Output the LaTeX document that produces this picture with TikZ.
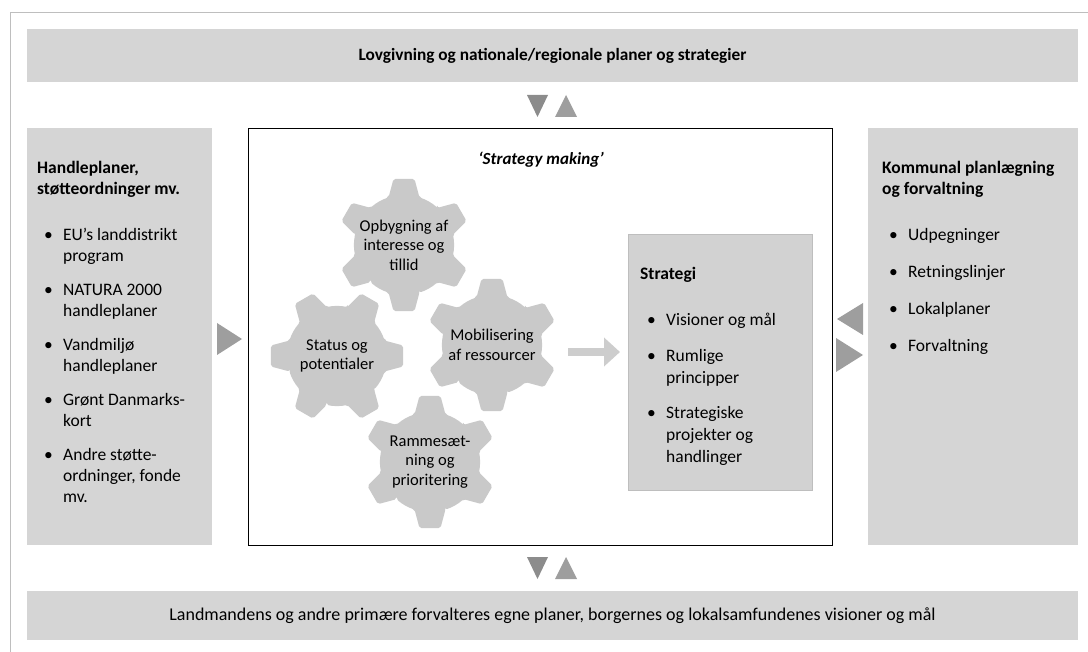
\documentclass[tikz,border=0pt]{standalone}
\usepackage{fontspec}
\setmainfont{Carlito}
\usepackage{xcolor}
\usetikzlibrary{arrows.meta, positioning}

\definecolor{panelgray}{HTML}{D5D5D5}
\definecolor{boxgray}{HTML}{D2D2D2}
\definecolor{coggray}{HTML}{C9C9C9}
\definecolor{tridark}{HTML}{8C8C8C}
\definecolor{trilight}{HTML}{9E9E9E}
\definecolor{framegray}{HTML}{BEBEBE}
\definecolor{flowgray}{HTML}{CDCDCD}

\newcommand{\bul}[1]{\par\hangindent=26pt\hangafter=1\noindent\makebox[26pt][l]{\hspace{7pt}\textbullet}#1\par}
\newcommand{\tightspace}{\raggedright\spaceskip=\fontdimen2\font\relax\xspaceskip=\fontdimen2\font\relax}
\newcommand{\Cog}[5]{%
  \fill[coggray, rounded corners=2pt, shift={(#2,#3)}, rotate=#4] (-18:50)
    \foreach \i in {0,...,5}{ -- ({60*\i-18}:50) -- ({60*\i-9}:67) -- ({60*\i+9}:67) -- ({60*\i+18}:50)
      arc[start angle={60*\i+18}, end angle={60*\i+42}, radius=50] } -- cycle;
  \node[cogtext] (#1) at (#2,#3) {#5};
}

\begin{document}
\begin{tikzpicture}[x=1pt, y=-1pt]
        \tikzstyle{bar} = [fill=panelgray, inner sep=0, minimum width=1051]
        \tikzstyle{panel} = [fill=panelgray, inner sep=0, anchor=north west]
        \tikzstyle{paneltext} = [inner sep=0, text width=192, font=\fontsize{17.5}{21}\selectfont]
        \tikzstyle{cogtext} = [align=center, inner sep=0, font=\fontsize{16.5}{19.5}\selectfont]
        \tikzstyle{flow} = [flowgray, line width=8pt, -{Triangle[length=16pt, width=28pt]}, shorten >=8pt]
        \useasboundingbox (0,0) rectangle (1088,652);
        \draw[framegray] (10,652) -- (10,12) -- (1088,12);

        \node[bar, minimum height=53, font=\fontsize{17.3}{21}\selectfont] (lov) at (552.5,55.5) {\textbf{Lovgivning og nationale/regionale planer og strategier}};
        \node[bar, minimum height=49, font=\fontsize{18}{21}\selectfont] (land) at (552.5,615.5) {Landmandens og andre primære forvalteres egne planer, borgernes og lokalsamfundenes visioner og mål};

        \node[panel, minimum width=185, minimum height=417] (handle) at (27,128) {};
        \node[paneltext, below right=33pt and 10pt of handle.north west] (handletext) {\tightspace\setlength{\parskip}{13pt}%
            \noindent\textbf{Handleplaner,}\newline\textbf{støtteordninger mv.}\par\vspace{12pt}
            \bul{EU’s landdistrikt\newline program}
            \bul{NATURA 2000\newline handleplaner}
            \bul{Vandmiljø\newline handleplaner}
            \bul{Grønt Danmarks-\newline kort}
            \bul{Andre støtte-\newline ordninger, fonde\newline mv.}};

        \node[panel, minimum width=210, minimum height=417] (kommune) at (868,128) {};
        \node[paneltext, below right=33pt and 14pt of kommune.north west] (kommunetext) {\tightspace\setlength{\parskip}{16pt}%
            \noindent\textbf{Kommunal planlægning}\newline\textbf{og forvaltning}\par\vspace{9pt}
            \bul{Udpegninger}
            \bul{Retningslinjer}
            \bul{Lokalplaner}
            \bul{Forvaltning}};

        \node[panel, draw=black, line width=1.2pt, fill=white, minimum width=584, minimum height=417] (making) at (248,128) {};
        \node[cogtext, font=\fontsize{17}{21}\selectfont] (makingtitle) at (541,160) {\textbf{\textit{‘Strategy making’}}};

        \node[panel, fill=boxgray, draw=framegray, minimum width=184, minimum height=256] (strat) at (628,234) {};
        \node[paneltext, text width=172, font=\fontsize{17.5}{22}\selectfont, below right=33pt and 12pt of strat.north west] (strattext) {\tightspace\setlength{\parskip}{13.5pt}%
            \noindent\textbf{Strategi}\par\vspace{11pt}
            \bul{Visioner og mål}
            \bul{Rumlige\newline principper}
            \bul{Strategiske\newline projekter og\newline handlinger}};

        \Cog{opbyg}{404}{245}{30}{Opbygning af\\interesse og\\tillid}
        \Cog{status}{337}{356}{0}{Status og\\potentialer}
        \Cog{mobil}{492}{345}{30}{Mobilisering\\af ressourcer}
        \Cog{ramme}{430}{462}{30}{Rammesæt-\\ning og\\prioritering}

        \coordinate (flowstart) at (568,352);
        \draw[flow] (flowstart) -- (flowstart -| strat.west);

        \fill[tridark] (527,95) -- (548,95) -- (537.5,117) -- cycle;
        \fill[trilight] (555,117) -- (577,117) -- (566,95) -- cycle;
        \fill[tridark] (527,557) -- (548,557) -- (537.5,579) -- cycle;
        \fill[trilight] (555,579) -- (577,579) -- (566,557) -- cycle;
        \fill[trilight] (217,323) -- (217,355) -- (242,339) -- cycle;
        \fill[trilight] (863,303) -- (863,335) -- (837,319) -- cycle;
        \fill[trilight] (836,338) -- (836,372) -- (863,355) -- cycle;
\end{tikzpicture}
\end{document}
